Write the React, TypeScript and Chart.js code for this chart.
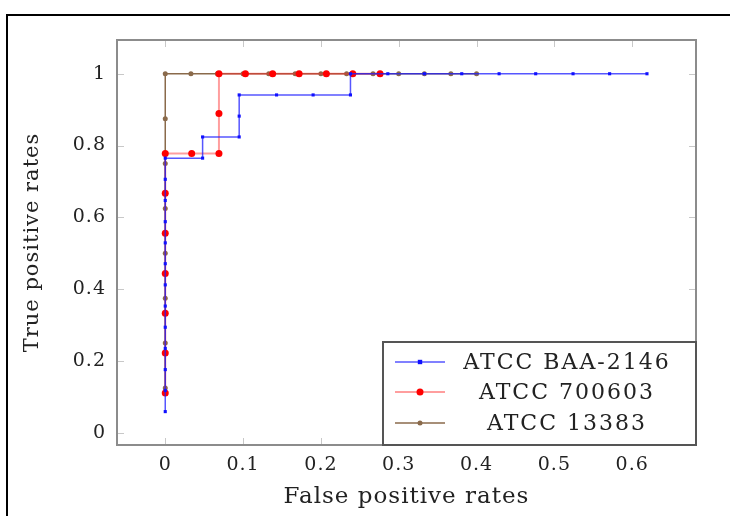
import React, { useEffect, useRef } from "react";
import { Chart, registerables } from "chart.js";

Chart.register(...registerables);

// ---- data ----
const seriesLabels = ["ATCC BAA-2146", "ATCC 700603", "ATCC 13383"];

const blueFpr = [0, 0, 0, 0, 0, 0, 0, 0, 0, 0, 0, 0, 0, 0.048, 0.048, 0.095, 0.095, 0.095, 0.143, 0.19, 0.238, 0.238, 0.286, 0.333, 0.381, 0.429, 0.476, 0.524, 0.571, 0.619];
const blueTpr = [0.059, 0.118, 0.176, 0.235, 0.294, 0.353, 0.412, 0.471, 0.529, 0.588, 0.647, 0.706, 0.765, 0.765, 0.824, 0.824, 0.882, 0.941, 0.941, 0.941, 0.941, 1, 1, 1, 1, 1, 1, 1, 1, 1];

const redFpr = [0, 0, 0, 0, 0, 0, 0, 0.034, 0.069, 0.069, 0.069, 0.103, 0.138, 0.172, 0.207, 0.241, 0.276];
const redTpr = [0.111, 0.222, 0.333, 0.444, 0.556, 0.667, 0.778, 0.778, 0.778, 0.889, 1, 1, 1, 1, 1, 1, 1];

const brownFpr = [0, 0, 0, 0, 0, 0, 0, 0, 0.033, 0.067, 0.1, 0.133, 0.167, 0.2, 0.233, 0.267, 0.3, 0.333, 0.367, 0.4];
const brownTpr = [0.125, 0.25, 0.375, 0.5, 0.625, 0.75, 0.875, 1, 1, 1, 1, 1, 1, 1, 1, 1, 1, 1, 1, 1];

const xTicks = [0, 0.1, 0.2, 0.3, 0.4, 0.5, 0.6];
const yTicks = [0, 0.2, 0.4, 0.6, 0.8, 1];

const xTitle = "False positive rates";
const yTitle = "True positive rates";

const FONT = "'DejaVu Serif', 'Liberation Serif', serif";
const BROWN = "#8a6a4b";

function pts(xs: number[], ys: number[]) {
  return xs.map((x, i) => ({ x, y: ys[i] }));
}

const framePlugin = {
  id: "frameTicks",
  beforeDraw(chart: any) {
    try {
      (chart.ctx as any).letterSpacing = "1px";
    } catch (e) {}
  },
  afterDatasetsDraw(chart: any) {
    const { ctx, chartArea: a, scales } = chart;
    ctx.save();
    ctx.strokeStyle = "#c8c8c8";
    ctx.lineWidth = 1;
    const L = 7;
    for (const v of xTicks) {
      const px = Math.round(scales.x.getPixelForValue(v)) + 0.5;
      ctx.beginPath();
      ctx.moveTo(px, a.bottom);
      ctx.lineTo(px, a.bottom - L);
      ctx.moveTo(px, a.top);
      ctx.lineTo(px, a.top + L);
      ctx.stroke();
    }
    for (const v of yTicks) {
      const py = Math.round(scales.y.getPixelForValue(v)) + 0.5;
      ctx.beginPath();
      ctx.moveTo(a.left, py);
      ctx.lineTo(a.left + L, py);
      ctx.moveTo(a.right, py);
      ctx.lineTo(a.right - L, py);
      ctx.stroke();
    }
    ctx.strokeStyle = "#8c8c8c";
    ctx.lineWidth = 2;
    ctx.strokeRect(a.left, a.top, a.right - a.left, a.bottom - a.top);
    ctx.restore();
  },
  afterDraw(chart: any) {
    const { ctx, chartArea: a } = chart;
    const left = 383;
    const top = 342;
    const right = a.right;
    const bottom = a.bottom;
    ctx.save();
    ctx.fillStyle = "#ffffff";
    ctx.fillRect(left, top, right - left, bottom - top);
    ctx.strokeStyle = "#555555";
    ctx.lineWidth = 2;
    ctx.strokeRect(left, top, right - left, bottom - top);
    const rowY = [362, 392, 423];
    chart.data.datasets.forEach((ds: any, i: number) => {
      const y = rowY[i];
      ctx.strokeStyle = ds.borderColor;
      ctx.lineWidth = ds.borderWidth;
      ctx.beginPath();
      ctx.moveTo(395, y);
      ctx.lineTo(445, y);
      ctx.stroke();
      ctx.fillStyle = ds.pointBackgroundColor;
      if (ds.pointStyle === "rect") {
        ctx.fillRect(420 - ds.pointRadius, y - ds.pointRadius, ds.pointRadius * 2, ds.pointRadius * 2);
      } else {
        ctx.beginPath();
        ctx.arc(420, y, ds.pointRadius, 0, Math.PI * 2);
        ctx.fill();
      }
      ctx.fillStyle = "#222222";
      ctx.font = `22px ${FONT}`;
      try {
        (ctx as any).letterSpacing = "2px";
      } catch (e) {}
      ctx.textAlign = "center";
      ctx.textBaseline = "middle";
      ctx.fillText(ds.label, 567, y + 1);
    });
    ctx.restore();
  },
};

export default function App() {
  const ref = useRef<HTMLCanvasElement | null>(null);

  useEffect(() => {
    document.body.style.margin = "0";
    if (!ref.current) return;
    const chart = new Chart(ref.current, {
      type: "line",
      data: {
        datasets: [
          {
            label: seriesLabels[0],
            data: pts(blueFpr, blueTpr),
            borderColor: "rgba(30,30,255,0.75)",
            borderWidth: 1.5,
            pointStyle: "rect",
            pointRadius: 2.2,
            pointBackgroundColor: "#1010ff",
            pointBorderWidth: 0,
            tension: 0,
          },
          {
            label: seriesLabels[1],
            data: pts(redFpr, redTpr),
            borderColor: "rgba(255,40,40,0.45)",
            borderWidth: 2,
            pointStyle: "circle",
            pointRadius: 3.5,
            pointBackgroundColor: "#ff0000",
            pointBorderWidth: 0,
            tension: 0,
          },
          {
            label: seriesLabels[2],
            data: pts(brownFpr, brownTpr),
            borderColor: BROWN,
            borderWidth: 1.5,
            pointStyle: "circle",
            pointRadius: 2.5,
            pointBackgroundColor: BROWN,
            pointBorderWidth: 0,
            tension: 0,
          },
        ] as any,
      },
      options: {
        animation: false,
        responsive: false,
        maintainAspectRatio: false,
        layout: { padding: { top: 40, right: 34, left: 0, bottom: 0 } },
        plugins: { legend: { display: false }, tooltip: { enabled: false } },
        scales: {
          x: {
            type: "linear",
            min: -0.062,
            max: 0.682,
            afterBuildTicks: (s: any) => {
              s.ticks = xTicks.map((v) => ({ value: v }));
            },
            afterFit: (s: any) => {
              s.height = 71;
            },
            grid: { display: false, drawTicks: false },
            border: { display: false },
            ticks: {
              padding: 9,
              color: "#222",
              font: { family: FONT, size: 19 },
              maxRotation: 0,
              callback: (v: any) => String(Math.round(Number(v) * 10) / 10),
            },
            title: {
              display: true,
              text: xTitle,
              color: "#222",
              font: { family: FONT, size: 23 },
              padding: { top: 0, bottom: 5 },
            },
          },
          y: {
            type: "linear",
            min: -0.034,
            max: 1.094,
            afterBuildTicks: (s: any) => {
              s.ticks = yTicks.map((v) => ({ value: v }));
            },
            afterFit: (s: any) => {
              s.width = 117;
            },
            grid: { display: false, drawTicks: false },
            border: { display: false },
            ticks: {
              padding: 11,
              color: "#222",
              font: { family: FONT, size: 19 },
              callback: (v: any) => String(Math.round(Number(v) * 10) / 10),
            },
            title: {
              display: true,
              text: yTitle,
              color: "#222",
              font: { family: FONT, size: 21 },
              padding: { top: 20, bottom: 0 },
            },
          },
        },
      },
      plugins: [framePlugin],
    });
    return () => chart.destroy();
  }, []);

  return (
    <div style={{ position: "relative", width: 730, height: 516, overflow: "hidden", background: "#fff" }}>
      <div
        style={{
          position: "absolute",
          left: 6,
          top: 14,
          width: 800,
          height: 600,
          borderTop: "2px solid #000",
          borderLeft: "2px solid #000",
        }}
      />
      <canvas ref={ref} width={730} height={516} style={{ position: "absolute", left: 0, top: 0, width: 730, height: 516 }} />
    </div>
  );
}
